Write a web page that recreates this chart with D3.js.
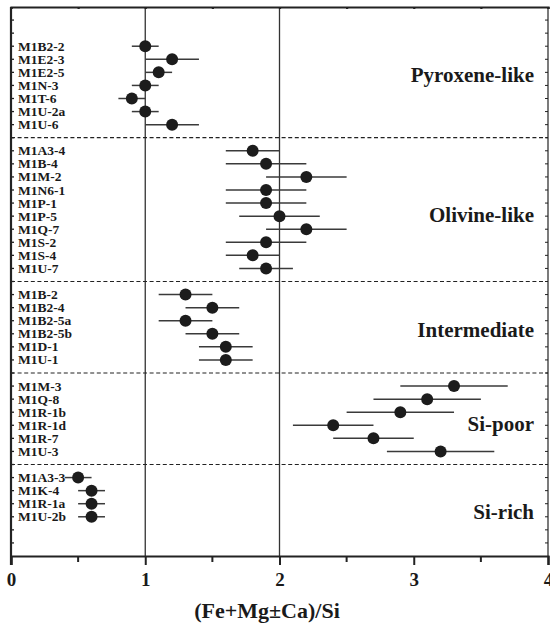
<!DOCTYPE html>
<html>
<head>
<meta charset="utf-8">
<script src="https://cdn.jsdelivr.net/npm/d3@7"></script>
<style>
  html, body { margin: 0; padding: 0; background: #fff; }
  svg { display: block; }
  text { font-family: "Liberation Serif", "Times New Roman", serif; font-weight: bold; fill: #1a1a1a; }
</style>
</head>
<body>
<svg id="chart" width="550" height="630"></svg>
<script>
// Composition groups (top to bottom)
const groupNames = ["Pyroxene-like", "Olivine-like", "Intermediate", "Si-poor", "Si-rich"];

// Samples and their (Fe+Mg±Ca)/Si ratio with uncertainty range
const sampleIds = [
  "M1B2-2", "M1E2-3", "M1E2-5", "M1N-3", "M1T-6", "M1U-2a", "M1U-6",
  "M1A3-4", "M1B-4", "M1M-2", "M1N6-1", "M1P-1", "M1P-5", "M1Q-7", "M1S-2", "M1S-4", "M1U-7",
  "M1B-2", "M1B2-4", "M1B2-5a", "M1B2-5b", "M1D-1", "M1U-1",
  "M1M-3", "M1Q-8", "M1R-1b", "M1R-1d", "M1R-7", "M1U-3",
  "M1A3-3", "M1K-4", "M1R-1a", "M1U-2b"
];
const sampleGroup = [
  0, 0, 0, 0, 0, 0, 0,
  1, 1, 1, 1, 1, 1, 1, 1, 1, 1,
  2, 2, 2, 2, 2, 2,
  3, 3, 3, 3, 3, 3,
  4, 4, 4, 4
];
const ratio = [
  1.0, 1.2, 1.1, 1.0, 0.9, 1.0, 1.2,
  1.8, 1.9, 2.2, 1.9, 1.9, 2.0, 2.2, 1.9, 1.8, 1.9,
  1.3, 1.5, 1.3, 1.5, 1.6, 1.6,
  3.3, 3.1, 2.9, 2.4, 2.7, 3.2,
  0.5, 0.6, 0.6, 0.6
];
const ratioLow = [
  0.9, 1.0, 1.0, 0.9, 0.8, 0.9, 1.0,
  1.6, 1.6, 1.9, 1.6, 1.6, 1.7, 1.9, 1.6, 1.6, 1.7,
  1.1, 1.3, 1.1, 1.3, 1.4, 1.4,
  2.9, 2.7, 2.5, 2.1, 2.4, 2.8,
  0.4, 0.5, 0.5, 0.5
];
const ratioHigh = [
  1.1, 1.4, 1.2, 1.1, 1.0, 1.1, 1.4,
  2.0, 2.2, 2.5, 2.2, 2.2, 2.3, 2.5, 2.2, 2.0, 2.1,
  1.5, 1.7, 1.5, 1.7, 1.8, 1.8,
  3.7, 3.5, 3.3, 2.7, 3.0, 3.6,
  0.6, 0.7, 0.7, 0.7
];
const xTickValues = [0, 1, 2, 3, 4];
const xTitle = "(Fe+Mg\u00B1Ca)/Si";

// ---- layout ----
const svg = d3.select("#chart");
const plotLeft = 11, plotRight = 548, plotTop = 7, plotBottom = 556;

// Row slots: 3 leading slots, one slot per sample, a divider slot after each group, 2 trailing slots
const rowSlot = [];
const dividerSlots = [];
let slot = 3;
groupNames.forEach((g, gi) => {
  sampleIds.forEach((s, i) => { if (sampleGroup[i] === gi) rowSlot[i] = slot++; });
  if (gi < groupNames.length - 1) dividerSlots.push(slot++);
});
const totalSlots = slot + 2;

const x = d3.scaleLinear().domain([0, 4]).range([plotLeft, plotRight]);
const y = d3.scaleLinear().domain([0, totalSlots]).range([plotTop, plotBottom]);

// reference lines at ratio 1 and 2
svg.append("g").selectAll("line").data([1, 2]).join("line")
  .attr("x1", d => x(d)).attr("x2", d => x(d))
  .attr("y1", plotTop).attr("y2", plotBottom)
  .attr("stroke", "#333").attr("stroke-width", 1.3);

// group dividers
svg.append("g").selectAll("line").data(dividerSlots).join("line")
  .attr("x1", plotLeft).attr("x2", plotRight)
  .attr("y1", d => y(d)).attr("y2", d => y(d))
  .attr("stroke", "#222").attr("stroke-width", 1.2)
  .attr("stroke-dasharray", "4,2.6");

// right frame edge
svg.append("line").attr("x1", plotRight).attr("x2", plotRight).attr("y1", plotTop).attr("y2", plotBottom)
  .attr("stroke", "#222").attr("stroke-width", 1.2);

// row ticks on left and right edges
const allSlots = d3.range(1, totalSlots);
svg.append("g").selectAll("line").data(allSlots).join("line")
  .attr("x1", plotLeft).attr("x2", plotLeft + 3)
  .attr("y1", d => y(d)).attr("y2", d => y(d))
  .attr("stroke", "#222").attr("stroke-width", 1.3);
svg.append("g").selectAll("line").data(allSlots).join("line")
  .attr("x1", plotRight - 3).attr("x2", plotRight)
  .attr("y1", d => y(d)).attr("y2", d => y(d))
  .attr("stroke", "#222").attr("stroke-width", 1);

// top axis (ticks inward)
const topAxis = d3.axisTop(x).tickValues(d3.range(0, 4.01, 0.5)).tickSize(-2).tickFormat("");
svg.append("g").attr("transform", `translate(0,${plotTop})`).call(topAxis)
  .call(g => g.select(".domain").attr("stroke", "#222").attr("stroke-width", 2.2))
  .call(g => g.selectAll(".tick line").attr("stroke", "#222").attr("stroke-width", 2.2));

// left axis line
svg.append("line").attr("x1", plotLeft).attr("x2", plotLeft).attr("y1", plotTop).attr("y2", plotBottom + 9)
  .attr("stroke", "#222").attr("stroke-width", 2.2);

// bottom axis
const bottomAxis = d3.axisBottom(x).tickValues(xTickValues).tickSize(9).tickPadding(8)
  .tickFormat(d3.format("d"));
const gx = svg.append("g").attr("transform", `translate(0,${plotBottom})`).call(bottomAxis);
gx.select(".domain").attr("stroke", "#222").attr("stroke-width", 2.2);
gx.selectAll(".tick line").attr("stroke", "#222").attr("stroke-width", 2);
gx.selectAll(".tick text")
  .style("font-family", "'Liberation Serif', serif").style("font-weight", "bold")
  .style("font-size", "19px").attr("fill", "#1a1a1a");
svg.append("g").selectAll("line").data([0.5, 1.5, 2.5, 3.5]).join("line")
  .attr("x1", d => x(d)).attr("x2", d => x(d))
  .attr("y1", plotBottom).attr("y2", plotBottom + 6)
  .attr("stroke", "#222").attr("stroke-width", 2);

// axis title
svg.append("text").attr("x", 267).attr("y", 618)
  .attr("text-anchor", "middle").style("font-size", "22px")
  .text(xTitle);

// error bars
svg.append("g").selectAll("line").data(sampleIds).join("line")
  .attr("x1", (d, i) => x(ratioLow[i])).attr("x2", (d, i) => x(ratioHigh[i]))
  .attr("y1", (d, i) => y(rowSlot[i])).attr("y2", (d, i) => y(rowSlot[i]))
  .attr("stroke", "#3a3a3a").attr("stroke-width", 1.5);

// points
svg.append("g").selectAll("circle").data(sampleIds).join("circle")
  .attr("cx", (d, i) => x(ratio[i])).attr("cy", (d, i) => y(rowSlot[i]))
  .attr("r", 6).attr("fill", "#1c1c1c");

// sample labels
svg.append("g").selectAll("text").data(sampleIds).join("text")
  .attr("x", 18).attr("y", (d, i) => y(rowSlot[i]) + 4.5)
  .style("font-size", "13.5px")
  .text(d => d);

// group labels, right aligned inside the frame
const groupLabelSlot = [5.2, 15.9, 24.7, 31.9, 38.6];
svg.append("g").selectAll("text").data(groupNames).join("text")
  .attr("x", plotRight - 14).attr("y", (d, i) => y(groupLabelSlot[i]) + 7)
  .attr("text-anchor", "end")
  .style("font-size", "21px")
  .text(d => d);
</script>
</body>
</html>
